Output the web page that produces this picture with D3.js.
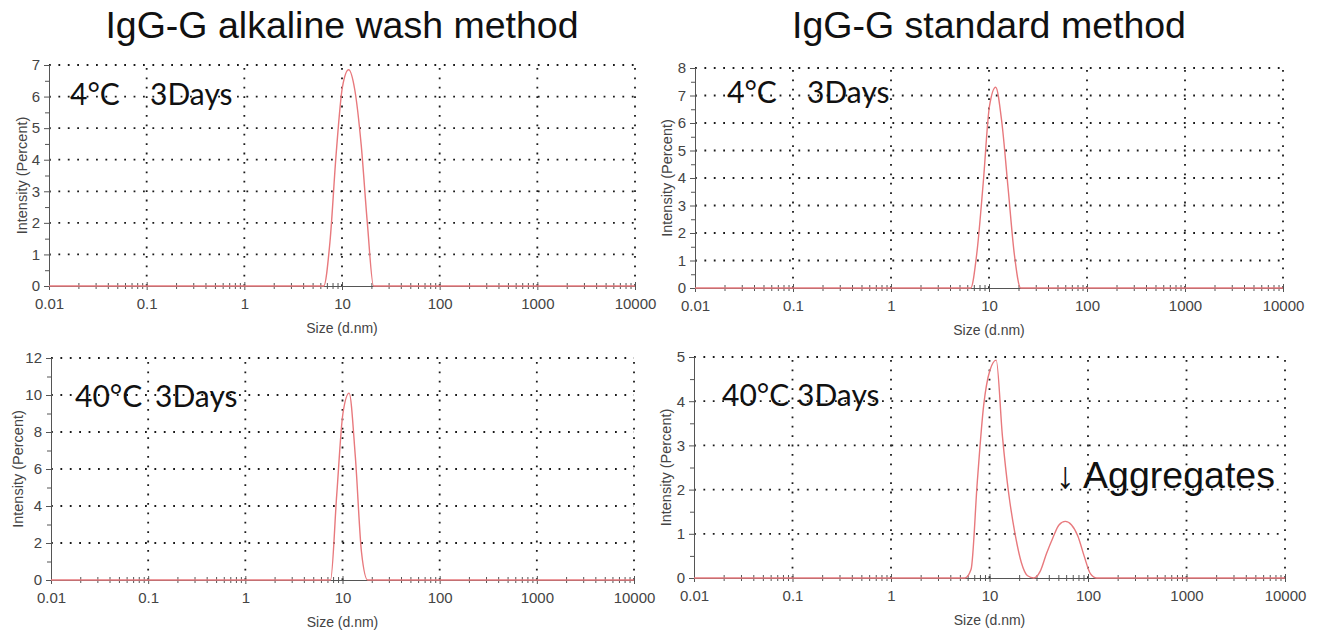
<!DOCTYPE html>
<html>
<head>
<meta charset="utf-8">
<script src="https://cdn.jsdelivr.net/npm/d3@7"></script>
<style>
  html, body { margin: 0; padding: 0; background: #fff; }
  svg { display: block; }
</style>
</head>
<body>
<svg id="chart" width="1320" height="631"></svg>
<script>
// ---------------- DATA ----------------
const titles = ["IgG-G alkaline wash method", "IgG-G standard method"];
const xTickValues = [0.01, 0.1, 1, 10, 100, 1000, 10000];
const xTickLabels = ["0.01", "0.1", "1", "10", "100", "1000", "10000"];
const xDomain = [0.01, 10000];
const xLabel = "Size (d.nm)";
const yLabel = "Intensity (Percent)";

// size bins (d.nm)
const sizes = [5.615, 6.503, 7.531, 8.721, 10.10, 11.70, 13.54, 15.69, 18.17, 21.04, 24.36,
               28.21, 32.67, 37.84, 43.82, 50.75, 58.77, 68.06, 78.82, 91.28, 105.7, 122.4];

// intensity (%) per panel
const alkaline4C  = [0, 0, 1.4, 4.2, 6.3, 6.85, 6.2, 4.5, 2.0, 0, 0, 0, 0, 0, 0, 0, 0, 0, 0, 0, 0, 0];
const standard4C  = [0, 0, 1.3, 3.8, 6.6, 7.3, 6.0, 3.6, 1.2, 0, 0, 0, 0, 0, 0, 0, 0, 0, 0, 0, 0, 0];
const alkaline40C = [0, 0, 0, 4.6, 9.0, 10.1, 6.7, 1.5, 0, 0, 0, 0, 0, 0, 0, 0, 0, 0, 0, 0, 0, 0];
const standard40C = [0, 0.2, 2.2, 3.9, 4.7, 4.93, 3.2, 1.9, 1.0, 0.35, 0.05, 0, 0.15, 0.55, 0.9, 1.2, 1.28, 1.2, 0.95, 0.5, 0.1, 0];

const yMaxes = { alk4: 7, std4: 8, alk40: 12, std40: 5 };
const yMajorSteps = { alk4: 1, std4: 1, alk40: 2, std40: 1 };
const yMinorSteps = { alk4: 0.5, std4: 0.5, alk40: 1, std40: 0.5 };

const tempLabels = { alk4: "4°C", std4: "4°C", alk40: "40°C", std40: "40°C" };
const timeLabel = "3Days";
const aggregateNote = "↓ Aggregates";

// ---------------- LAYOUT ----------------
const svg = d3.select("#chart");
const panels = [
  { key: "alk4",  data: alkaline4C,  x0: 49,  x1: 635,  y0: 65,  y1: 286, ann: [70, 105, 150], yl: 22 },
  { key: "std4",  data: standard4C,  x0: 695, x1: 1283, y0: 68,  y1: 288, ann: [727, 103, 807], yl: 23 },
  { key: "alk40", data: alkaline40C, x0: 51,  x1: 634,  y0: 358, y1: 580, ann: [75, 407, 155], yl: 28 },
  { key: "std40", data: standard40C, x0: 694, x1: 1285, y0: 357, y1: 578, ann: [722, 406, 797], yl: 23 }
];

// titles
svg.append("text").attr("x", 342).attr("y", 38).attr("text-anchor", "middle")
  .attr("font-family", "Liberation Sans, Arial, sans-serif").attr("font-size", 37.5)
  .attr("fill", "#111").text(titles[0]);
svg.append("text").attr("x", 989).attr("y", 38).attr("text-anchor", "middle")
  .attr("font-family", "Liberation Sans, Arial, sans-serif").attr("font-size", 37.5)
  .attr("fill", "#111").text(titles[1]);

const tickFont = "Liberation Sans, Arial, sans-serif";

panels.forEach(p => {
  const g = svg.append("g");
  const x = d3.scaleLog().domain(xDomain).range([p.x0, p.x1]);
  const yMax = yMaxes[p.key];
  const y = d3.scaleLinear().domain([0, yMax]).range([p.y1, p.y0]);
  const majorY = d3.range(0, yMax + 1e-9, yMajorSteps[p.key]);
  const minorY = d3.range(0, yMax + 1e-9, yMinorSteps[p.key]);

  // dotted grid
  const grid = g.append("g").attr("stroke", "#1a1a1a").attr("stroke-width", 1.8)
    .attr("stroke-dasharray", "1.8,7.6").attr("fill", "none");
  majorY.filter(v => v > 0).forEach(v => {
    grid.append("line").attr("x1", p.x0).attr("x2", p.x1).attr("y1", y(v)).attr("y2", y(v));
  });
  xTickValues.filter(v => v > xDomain[0]).forEach(v => {
    grid.append("line").attr("x1", x(v)).attr("x2", x(v)).attr("y1", p.y1).attr("y2", p.y0);
  });

  // y axis
  const yAxis = d3.axisLeft(y).tickValues(majorY).tickSize(5).tickPadding(4)
    .tickFormat(d3.format("d"));
  const ya = g.append("g").attr("transform", `translate(${p.x0},0)`).call(yAxis);
  ya.select(".domain").attr("stroke", "#555");
  ya.selectAll(".tick line").attr("stroke", "#555").attr("x2", -5).attr("x1", 2);
  ya.selectAll("text").attr("font-family", tickFont).attr("font-size", 15).attr("fill", "#444");
  const yMinorAxis = d3.axisLeft(y).tickValues(minorY.filter(v => !majorY.includes(v)))
    .tickSize(4).tickFormat("");
  const ym = g.append("g").attr("transform", `translate(${p.x0},0)`).call(yMinorAxis);
  ym.select(".domain").remove();
  ym.selectAll(".tick line").attr("stroke", "#555");

  // x axis
  const xAxis = d3.axisBottom(x).tickValues(xTickValues).tickSize(4).tickPadding(8)
    .tickFormat((d, i) => xTickLabels[i]);
  const xa = g.append("g").attr("transform", `translate(0,${p.y1})`).call(xAxis);
  xa.select(".domain").attr("stroke", "#555");
  xa.selectAll(".tick line").attr("stroke", "#555").attr("y1", -4).attr("y2", 4);
  xa.selectAll("text").attr("font-family", tickFont).attr("font-size", 15).attr("fill", "#444");
  const minorX = [];
  for (let e = -2; e < 4; e++) for (let m = 2; m <= 9; m++) minorX.push(m * Math.pow(10, e));
  const xMinorAxis = d3.axisBottom(x).tickValues(minorX).tickSize(3).tickFormat("");
  const xm = g.append("g").attr("transform", `translate(0,${p.y1})`).call(xMinorAxis);
  xm.select(".domain").remove();
  xm.selectAll(".tick line").attr("stroke", "#555").attr("y1", -3).attr("y2", 3);

  // axis titles
  g.append("text").attr("x", (p.x0 + p.x1) / 2).attr("y", p.y1 + 47)
    .attr("text-anchor", "middle").attr("font-family", tickFont).attr("font-size", 14)
    .attr("fill", "#444").text(xLabel);
  g.append("text").attr("transform", `translate(${p.x0 - p.yl},${(p.y0 + p.y1) / 2}) rotate(-90)`)
    .attr("text-anchor", "middle").attr("font-family", tickFont).attr("font-size", 14.5)
    .attr("fill", "#444").text(yLabel);

  // distribution curve
  const pts = [[xDomain[0], 0]].concat(sizes.map((s, i) => [s, p.data[i]])).concat([[xDomain[1], 0]]);
  const line = d3.line().x(d => x(d[0])).y(d => y(d[1])).curve(d3.curveMonotoneX);
  g.append("path").datum(pts).attr("d", line).attr("fill", "none")
    .attr("stroke", "#e8797d").attr("stroke-width", 1.4);

  // annotation
  const annFont = "Lato, 'Open Sans', sans-serif";
  g.append("text").attr("x", p.ann[0]).attr("y", p.ann[1])
    .attr("font-family", annFont).attr("font-size", 30)
    .attr("fill", "#111").text(tempLabels[p.key]);
  g.append("text").attr("x", p.ann[2]).attr("y", p.ann[1])
    .attr("font-family", annFont).attr("font-size", 30)
    .attr("fill", "#111").text(timeLabel);
});

// aggregates note
svg.append("text").attr("x", 1056).attr("y", 488)
  .attr("font-family", "Liberation Sans, Arial, sans-serif").attr("font-size", 37.5)
  .attr("fill", "#111").text(aggregateNote);
</script>
</body>
</html>
